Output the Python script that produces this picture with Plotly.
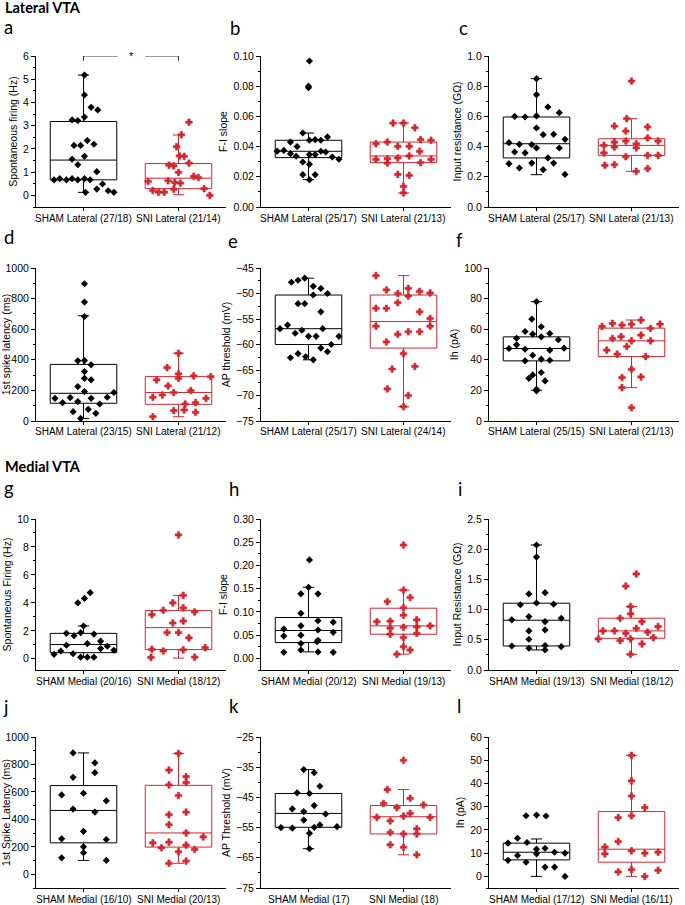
import plotly.graph_objects as go

W, H = 685, 905
SHAM_COLOR = 'black'
SNI_COLOR = '#d3262f'
TXT_FONT = 'Liberation Sans, Arial, sans-serif'

# box stats: [lower whisker, q1, median, q3, upper whisker]
# point x offsets (dx) are relative to the category centre

# ---- a: spontaneous firing, lateral
a_labels = ['SHAM Lateral (27/18)', 'SNI Lateral (21/14)']
a_sham_y = [5.18, 4.32, 3.79, 3.68, 3.37, 3.25, 3.22, 2.36, 2.2, 2.15, 2.15, 1.68, 1.56, 1.32, 1.02,
            0.67, 0.72, 0.67, 0.72, 0.67, 0.72, 0.67, 0.49, 0.27, 0.2, 0.13, 0.13]
a_sham_dx = [0.01, 0.01, 0.08, 0.15, 0.01, -0.12, -0.06, 0.04, 0.11, -0.10, -0.03, 0.01, -0.12, -0.06, 0.14,
             -0.31, -0.25, -0.18, -0.12, -0.06, 0.01, 0.07, 0.20, 0.14, 0.26, 0.32, 0.02]
a_sni_y = [3.15, 2.61, 2.1, 1.7, 1.68, 1.39, 1.3, 1.27, 0.99, 0.82, 0.77, 0.6, 0.63, 0.56, 0.53,
           0.21, 0.14, 0.14, 0.27, 0.29, 0.0]
a_sni_dx = [0.11, 0.03, -0.02, 0.01, 0.06, 0.11, -0.10, -0.05, 0.0, 0.16, 0.21, -0.32, -0.11, -0.04, 0.02,
            -0.27, -0.21, -0.15, -0.05, 0.27, 0.33]
a_sham_box = [0.13, 0.67, 1.52, 3.18, 5.18]
a_sni_box = [0.03, 0.29, 0.74, 1.37, 2.6]

# ---- b: F-I slope, lateral
b_labels = ['SHAM Lateral (25/17)', 'SNI Lateral (21/13)']
b_sham_y = [0.0967, 0.080, 0.079, 0.049, 0.0464, 0.0446, 0.0442, 0.0442, 0.043, 0.037, 0.0375, 0.040, 0.0353,
            0.0369, 0.0364, 0.0347, 0.0347, 0.0336, 0.0331, 0.0316, 0.0298, 0.0283, 0.0214, 0.0214, 0.0181]
b_sham_dx = [0.01, 0.0, 0.0, -0.06, 0.20, 0.07, 0.13, 0.01, -0.19, -0.33, -0.26, -0.12, -0.19,
             0.13, 0.18, 0.01, 0.07, -0.13, 0.25, 0.32, -0.06, 0.01, -0.06, 0.07, 0.01]
b_sni_y = [0.0556, 0.0556, 0.0525, 0.0419, 0.043, 0.0402, 0.0402, 0.0446, 0.0442, 0.0369, 0.0338, 0.0316,
           0.032, 0.0325, 0.0316, 0.0291, 0.0294, 0.0216, 0.021, 0.0137, 0.0093]
b_sni_dx = [-0.11, 0.0, 0.12, -0.29, -0.17, -0.06, 0.06, 0.18, 0.29, 0.17, 0.06, -0.29,
            -0.17, -0.06, 0.29, -0.17, 0.18, -0.06, 0.06, 0.0, 0.0]
b_sham_box = [0.0181, 0.0327, 0.0369, 0.0442, 0.049]
b_sni_box = [0.0093, 0.0294, 0.0338, 0.043, 0.0556]

# ---- c: input resistance, lateral
c_labels = ['SHAM Lateral (25/17)', 'SNI Lateral (21/13)']
c_sham_y = [0.85, 0.744, 0.662, 0.625, 0.60, 0.596, 0.603, 0.523, 0.479, 0.481, 0.448, 0.426, 0.415, 0.413,
            0.391, 0.391, 0.364, 0.358, 0.325, 0.291, 0.287, 0.291, 0.258, 0.247, 0.216]
c_sham_dx = [0.0, 0.0, 0.12, 0.24, -0.23, -0.12, 0.0, 0.0, 0.07, 0.18, 0.30, -0.29, -0.18, -0.05,
             0.0, 0.24, -0.23, -0.12, 0.12, 0.18, -0.29, -0.05, -0.18, 0.07, 0.30]
c_sni_y = [0.834, 0.585, 0.536, 0.53, 0.503, 0.457, 0.437, 0.419, 0.437, 0.408, 0.43, 0.397, 0.391, 0.358,
           0.333, 0.342, 0.342, 0.276, 0.28, 0.236, 0.254]
c_sni_dx = [0.0, -0.05, -0.18, 0.17, -0.06, 0.17, -0.06, 0.05, 0.28, -0.29, -0.18, -0.18, 0.05, -0.29,
            -0.06, 0.17, 0.28, -0.28, -0.18, 0.05, 0.17]
c_sham_box = [0.214, 0.325, 0.419, 0.596, 0.85]
c_sni_box = [0.236, 0.342, 0.408, 0.452, 0.585]

# ---- d: 1st spike latency, lateral
d_labels = ['SHAM Lateral (23/15)', 'SNI Lateral (21/12)']
d_sham_y = [897, 777, 683, 393, 395, 367, 323, 225, 279, 269, 192, 148, 120, 153, 127, 148, 111, 155, 186,
            61, 76, 50, 17]
d_sham_dx = [0.01, 0.01, 0.01, -0.06, 0.01, 0.08, 0.01, -0.06, 0.01, 0.08, 0.01, -0.30, -0.22, -0.14, -0.06,
             0.08, 0.17, 0.25, 0.32, -0.11, 0.05, 0.13, -0.03]
d_sni_y = [443, 349, 308, 279, 295, 290, 269, 229, 199, 186, 155, 170, 148, 111, 120, 68, 72, 57, 28]
d_sni_dx = [0.0, -0.12, 0.0, 0.0, 0.16, 0.34, -0.23, -0.11, 0.13, -0.05, -0.27, -0.17, 0.29, 0.07, 0.18,
            -0.05, 0.06, 0.18, -0.27]
d_sham_box = [17, 116, 181, 370, 688]
d_sni_box = [28, 109, 186, 290, 443]

# ---- e: AP threshold, lateral
e_labels = ['SHAM Lateral (25/17)', 'SNI Lateral (24/14)']
e_sham_y = [-47.0, -47.4, -47.8, -48.6, -49.0, -50.0, -50.3, -52.0, -52.0, -53.6, -56.2, -56.9, -56.9, -57.2,
            -57.8, -58.4, -58.4, -58.4, -60.0, -60.7, -61.4, -61.8, -62.6, -62.4, -63.0]
e_sham_dx = [-0.04, -0.11, -0.18, 0.05, 0.13, 0.20, 0.05, -0.11, -0.04, 0.13, -0.22, -0.30, 0.15, -0.07,
             -0.14, 0.0, 0.08, 0.32, 0.24, 0.13, 0.20, -0.11, -0.19, -0.03, 0.05]
e_sni_y = [-46.5, -49.3, -49.0, -49.6, -49.9, -50.0, -50.5, -51.8, -52.9, -52.9, -53.6, -54.9, -56.4, -56.4,
           -57.5, -57.5, -58.0, -59.5, -61.8, -64.8, -64.3, -68.7, -70.0, -72.2]
e_sni_dx = [-0.29, -0.18, 0.05, 0.17, 0.28, -0.06, 0.05, -0.06, -0.29, -0.18, 0.17, 0.28, -0.29, 0.28,
            0.05, 0.17, -0.06, -0.18, 0.0, -0.12, 0.12, -0.17, 0.05, 0.0]
e_sham_box = [-63.0, -60.0, -56.9, -50.3, -47.0]
e_sni_box = [-72.2, -60.7, -55.5, -50.3, -46.5]

# ---- f: Ih, lateral
f_labels = ['SHAM Lateral (25/15)', 'SNI Lateral (21/13)']
f_sham_y = [78, 66.6, 61.6, 58.5, 56.8, 57.2, 55, 54.1, 53.1, 49.8, 47.6, 46.9, 47.4, 46.3, 43, 39.3, 40.4,
            39.7, 31.7, 30.1, 27.9, 26.2, 20.7, 19.7]
f_sham_dx = [0.0, -0.05, 0.05, -0.12, -0.04, 0.14, 0.05, -0.21, 0.23, -0.21, 0.29, -0.12, -0.29, 0.14, -0.04,
             -0.12, 0.05, 0.14, 0.05, -0.04, -0.08, 0.09, 0.0, 0.0]
f_sni_y = [65.9, 63.8, 61.8, 62.7, 63.3, 60.5, 63.3, 53.9, 55.2, 56.1, 52.4, 52.4, 46.3, 48.7, 43.7, 42.1,
           33.8, 28.4, 28.8, 21.8, 8.7]
f_sni_dx = [0.10, -0.20, -0.31, -0.10, 0.30, 0.20, 0.0, -0.20, -0.11, 0.10, 0.20, 0.0, -0.26, -0.05, -0.15,
            0.15, 0.0, -0.10, 0.10, -0.10, 0.0]
f_sham_box = [20.1, 39.3, 47.4, 55.0, 78]
f_sni_box = [21.8, 42.1, 52.4, 60.7, 66]

# ---- g: spontaneous firing, medial
g_labels = ['SHAM Medial (20/16)', 'SNI Medial (18/12)']
g_sham_y = [4.73, 4.32, 4.0, 2.35, 1.82, 1.87, 1.77, 1.65, 1.09, 0.97, 1.26, 0.90, 0.73, 0.56, 0.61, 0.32,
            0.36, 0.12, 0.12, 0.12]
g_sham_dx = [0.07, 0.01, -0.06, 0.0, -0.18, -0.03, 0.11, -0.10, 0.04, -0.18, 0.18, 0.25, 0.18, -0.24, 0.32,
             -0.31, -0.11, -0.03, 0.04, 0.11]
g_sni_y = [8.86, 4.54, 4.0, 3.64, 3.47, 3.35, 3.16, 2.7, 2.56, 1.88, 1.88, 1.5, 0.8, 0.68, 0.56, 0.64, 0.1, 0.12]
g_sni_dx = [0.0, 0.05, -0.06, 0.05, -0.16, 0.17, -0.28, 0.05, -0.06, -0.12, 0.0, 0.11, 0.28, -0.28, -0.16,
            0.05, -0.29, 0.17]
g_sham_box = [0.12, 0.44, 1.02, 1.82, 2.35]
g_sni_box = [0.05, 0.66, 2.23, 3.45, 4.54]

# ---- h: F-I slope, medial
h_labels = ['SHAM Medial (20/12)', 'SNI Medial (19/13)']
h_sham_y = [0.212, 0.153, 0.139, 0.139, 0.097, 0.070, 0.081, 0.078, 0.063, 0.061, 0.056, 0.048, 0.050, 0.039,
            0.036, 0.032, 0.018, 0.013, 0.014, 0.013]
h_sham_dx = [0.01, 0.0, -0.08, 0.10, -0.08, -0.08, 0.10, 0.26, -0.26, 0.10, 0.26, -0.26, -0.08, 0.10,
             0.09, -0.08, -0.08, -0.26, 0.10, 0.26]
h_sni_y = [0.244, 0.147, 0.131, 0.122, 0.109, 0.093, 0.079, 0.080, 0.083, 0.068, 0.070, 0.067, 0.065, 0.052,
           0.054, 0.045, 0.025, 0.018, 0.009]
h_sni_dx = [0.0, 0.0, 0.07, -0.17, 0.0, 0.0, -0.28, -0.14, 0.14, 0.14, 0.28, 0.0, -0.14, -0.14,
            0.14, 0.0, 0.0, 0.07, -0.07]
h_sham_box = [0.014, 0.034, 0.060, 0.088, 0.153]
h_sni_box = [0.009, 0.052, 0.070, 0.108, 0.147]

# ---- i: input resistance, medial
i_labels = ['SHAM Medial (19/13)', 'SNI Medial (18/12)']
i_sham_y = [2.07, 1.87, 1.26, 1.28, 1.08, 1.11, 1.09, 0.83, 0.885, 0.857, 0.80, 0.647, 0.664, 0.509, 0.398,
            0.36, 0.404, 0.332, 0.387]
i_sham_dx = [0.0, 0.0, -0.08, 0.09, -0.17, 0.0, 0.18, -0.26, -0.08, 0.26, 0.09, -0.08, 0.09, -0.08, -0.26,
             -0.08, 0.09, 0.09, 0.26]
i_sni_y = [1.59, 1.39, 1.05, 0.93, 0.857, 0.80, 0.647, 0.647, 0.69, 0.608, 0.625, 0.719, 0.514, 0.487, 0.514,
           0.536, 0.431, 0.26]
i_sni_dx = [0.05, -0.06, -0.01, -0.01, -0.12, 0.11, -0.30, -0.18, 0.05, -0.06, 0.17, 0.28, -0.35, -0.12, -0.01,
            0.23, 0.11, -0.01]
i_sham_box = [0.332, 0.398, 0.824, 1.106, 2.07]
i_sni_box = [0.26, 0.525, 0.647, 0.857, 1.05]

# ---- j: 1st spike latency, medial
j_labels = ['SHAM Medial (16/10)', 'SNI Medial (20/13)']
j_sham_y = [884, 812, 740, 706, 578, 590, 535, 475, 453, 313, 258, 253, 200, 157, 120, 101]
j_sham_dx = [-0.11, 0.12, 0.12, -0.11, -0.23, 0.0, 0.24, -0.11, 0.12, 0.0, -0.23, 0.24, 0.0, 0.0, -0.23, 0.24]
j_sni_y = [880, 759, 711, 668, 651, 574, 434, 453, 361, 301, 272, 229, 193, 234, 212, 181, 164, 80, 96]
j_sni_dx = [0.0, -0.10, 0.08, 0.08, -0.10, 0.0, -0.10, 0.08, -0.10, 0.08, 0.26, -0.27, -0.18, -0.10, 0.08,
            0.17, 0.0, -0.10, 0.08]
j_sham_box = [101, 229, 465, 646, 884]
j_sni_box = [80, 198, 301, 648, 880]

# ---- k: AP threshold, medial
k_labels = ['SHAM Medial (17)', 'SNI Medial (18)']
k_sham_y = [-35.8, -36.8, -41.3, -43.5, -43.7, -47.7, -48.8, -49.7, -50.5, -52.5, -54.1, -55.0, -55.2, -54.9,
            -54.7, -56.9, -62.0]
k_sham_dx = [-0.05, 0.06, 0.12, -0.12, 0.01, 0.06, -0.17, -0.05, 0.18, -0.05, 0.12, -0.29, -0.17, 0.06,
             0.30, 0.01, 0.01]
k_sni_y = [-32.7, -42.4, -45.3, -47.0, -47.5, -48.4, -50.3, -51.6, -51.2, -51.6, -52.8, -55.4, -56.6, -57.1,
           -57.1, -60.7, -61.5, -64.0]
k_sni_dx = [0.0, -0.17, 0.07, -0.21, 0.21, -0.07, 0.07, -0.28, 0.0, 0.28, -0.14, 0.14, -0.14, 0.0,
            0.14, -0.14, 0.0, 0.14]
k_sham_box = [-62.0, -54.9, -50.3, -43.7, -35.8]
k_sni_box = [-64.0, -57.1, -51.4, -47.7, -42.4]

# ---- l: Ih, medial
l_labels = ['SHAM Medial (17/12)', 'SNI Medial (16/11)']
l_sham_y = [26.1, 26.4, 26.0, 16.4, 14.3, 14.6, 12.1, 11.7, 9.0, 9.7, 10.4, 10.0, 6.9, 6.1, 4.0, 4.0, 0.0]
l_sham_dx = [-0.11, 0.0, 0.10, -0.20, -0.30, -0.10, 0.09, 0.0, -0.20, 0.0, 0.19, 0.30, -0.30, -0.11, 0.09,
             0.19, 0.30]
l_sni_y = [52.1, 41.1, 34.6, 29.6, 26.1, 25.3, 15.0, 12.6, 9.7, 11.0, 10.0, 10.4, 1.9, 2.9, 2.6, 0.0]
l_sni_dx = [0.0, 0.0, 0.0, 0.14, 0.0, -0.14, -0.14, -0.28, -0.28, 0.0, 0.14, 0.28, -0.14, 0.0, 0.28, 0.14]
l_sham_box = [0.0, 7.1, 10.4, 14.3, 16.1]
l_sni_box = [0.0, 6.1, 11.7, 27.9, 52.1]

y_titles = ['Spontaneous firing (Hz)', 'F-I slope', 'Input resistance (G\u03a9)',
            '1st spike latency (ms)', 'AP threshold (mV)', 'Ih (pA)',
            'Spontaneous Firing (Hz)', 'F-I slope', 'Input Resistance (G\u03a9)',
            '1st Spike Latency (ms)', 'AP Threshold (mV)', 'Ih (pA)']

# significance bracket in panel a
sig_left_x = [0, 0, 0.36]
sig_left_y = [5.8, 6, 6]
sig_right_x = [0.65, 1, 1]
sig_right_y = [6, 6, 5.8]

panels = [
    (a_labels, a_sham_y, a_sham_dx, a_sni_y, a_sni_dx, a_sham_box, a_sni_box),
    (b_labels, b_sham_y, b_sham_dx, b_sni_y, b_sni_dx, b_sham_box, b_sni_box),
    (c_labels, c_sham_y, c_sham_dx, c_sni_y, c_sni_dx, c_sham_box, c_sni_box),
    (d_labels, d_sham_y, d_sham_dx, d_sni_y, d_sni_dx, d_sham_box, d_sni_box),
    (e_labels, e_sham_y, e_sham_dx, e_sni_y, e_sni_dx, e_sham_box, e_sni_box),
    (f_labels, f_sham_y, f_sham_dx, f_sni_y, f_sni_dx, f_sham_box, f_sni_box),
    (g_labels, g_sham_y, g_sham_dx, g_sni_y, g_sni_dx, g_sham_box, g_sni_box),
    (h_labels, h_sham_y, h_sham_dx, h_sni_y, h_sni_dx, h_sham_box, h_sni_box),
    (i_labels, i_sham_y, i_sham_dx, i_sni_y, i_sni_dx, i_sham_box, i_sni_box),
    (j_labels, j_sham_y, j_sham_dx, j_sni_y, j_sni_dx, j_sham_box, j_sni_box),
    (k_labels, k_sham_y, k_sham_dx, k_sni_y, k_sni_dx, k_sham_box, k_sni_box),
    (l_labels, l_sham_y, l_sham_dx, l_sni_y, l_sni_dx, l_sham_box, l_sni_box),
]

# axis settings: (range, dtick, tickformat)
y_axes = [
    ([-0.5, 6], 1, ''), ([0, 0.1], 0.02, '.2f'), ([0, 1.0], 0.2, '.1f'),
    ([0, 1000], 200, ''), ([-75, -45], 5, ''), ([0, 100], 20, ''),
    ([-0.8, 10], 2, ''), ([-0.025, 0.3], 0.05, '.2f'), ([0, 2.5], 0.5, '.1f'),
    ([-100, 1000], 200, ''), ([-75, -25], 10, ''), ([-5, 60], 10, ''),
]

# pixel layout of the plot areas
col_px = [(36, 226), (261, 451), (489, 679)]
row_px = [(56, 207), (268, 421), (519, 670), (737, 888)]


def xp(px):
    return px / W


def yp(py):
    return 1 - py / H


fig = go.Figure()
layout = {}
annotations = []

for n, (labels, sy, sdx, ny, ndx, sbox, nbox) in enumerate(panels):
    idx = n + 1
    xa = 'x' if idx == 1 else f'x{idx}'
    ya = 'y' if idx == 1 else f'y{idx}'
    r, c = divmod(n, 3)

    for cat, box, col in [(0, sbox, SHAM_COLOR), (1, nbox, SNI_COLOR)]:
        fig.add_trace(go.Box(
            x=[cat], lowerfence=[box[0]], q1=[box[1]], median=[box[2]], q3=[box[3]], upperfence=[box[4]],
            width=0.7, whiskerwidth=0.17, boxpoints=False,
            line=dict(color=col, width=1), fillcolor='rgba(0,0,0,0)',
            xaxis=xa, yaxis=ya, showlegend=False, hoverinfo='skip'))

    fig.add_trace(go.Scatter(
        x=[0 + d for d in sdx], y=sy, mode='markers', cliponaxis=False,
        marker=dict(symbol='diamond', size=5.5, color=SHAM_COLOR),
        xaxis=xa, yaxis=ya, showlegend=False))
    fig.add_trace(go.Scatter(
        x=[1 + d for d in ndx], y=ny, mode='markers', cliponaxis=False,
        marker=dict(symbol='cross', size=5.5, color=SNI_COLOR, line=dict(color=SNI_COLOR, width=0.6)),
        xaxis=xa, yaxis=ya, showlegend=False))

    yr, dt, fmt = y_axes[n]
    x0, x1 = col_px[c]
    top, bot = row_px[r]
    key = '' if idx == 1 else str(idx)
    layout['xaxis' + key] = dict(
        domain=[xp(x0), xp(x1)], range=[-0.5, 1.5], anchor=ya,
        tickvals=[0, 1], showticklabels=False, showline=True, linecolor='black', linewidth=1,
        ticks='outside', ticklen=3, tickcolor='black', showgrid=False, zeroline=False,
        automargin=False)
    layout['yaxis' + key] = dict(
        domain=[yp(bot), yp(top)], range=yr, dtick=dt, tick0=yr[1] if idx == 11 else 0,
        tickformat=fmt, anchor=xa, showline=True, linecolor='black', linewidth=1,
        ticks='outside', ticklen=4, tickcolor='black', showgrid=False, zeroline=False,
        minor=dict(dtick=dt / 2, ticks='outside', ticklen=2, tickcolor='black'),
        tickfont=dict(size=10.5, color='black', family=TXT_FONT), automargin=False,
        title=dict(text=y_titles[n], standoff=3,
                   font=dict(size=10.5, color='black', family=TXT_FONT)))

    # category labels under the x axis
    for cat, lab in enumerate(labels):
        annotations.append(dict(
            x=cat, xref=xa, y=yp(bot + 11), yref='paper', text=lab, showarrow=False,
            xanchor='center', yanchor='middle',
            font=dict(size=10, color='black', family=TXT_FONT)))

# significance bracket, panel a
for bx, by in [(sig_left_x, sig_left_y), (sig_right_x, sig_right_y)]:
    fig.add_trace(go.Scatter(x=bx, y=by, mode='lines', cliponaxis=False,
                             line=dict(color='#333333', width=1), xaxis='x', yaxis='y',
                             showlegend=False, hoverinfo='skip'))

annotations.append(dict(x=0.5, y=6, xref='x', yref='y', text='*', showarrow=False,
                        font=dict(size=11, color='black', family=TXT_FONT), yanchor='middle'))

for text, hy in [('<b>Lateral VTA</b>', 7), ('<b>Medial VTA</b>', 466)]:
    annotations.append(dict(x=xp(3), y=yp(hy), xref='paper', yref='paper', text=text,
                            xanchor='left', yanchor='middle', showarrow=False,
                            font=dict(size=14.5, color='black', family='Lato, Open Sans, sans-serif')))

letters = [('a', 2, 27), ('b', 228, 28), ('c', 457, 28),
           ('d', 2, 237), ('e', 226, 241), ('f', 454, 240),
           ('g', 2, 488), ('h', 227, 489), ('i', 456, 489),
           ('j', 1, 707), ('k', 227, 706), ('l', 455, 706)]
for t, lx, ly in letters:
    annotations.append(dict(x=xp(lx), y=yp(ly), xref='paper', yref='paper', text=t,
                            xanchor='left', yanchor='middle', showarrow=False,
                            font=dict(size=18.5, color='black', family='Lato, Open Sans, sans-serif')))

fig.update_layout(
    width=W, height=H, margin=dict(l=0, r=0, t=0, b=0),
    paper_bgcolor='white', plot_bgcolor='white',
    font=dict(family=TXT_FONT, size=10.5, color='black'),
    boxmode='overlay', annotations=annotations, **layout)

# the page body has a default 8px margin; drop it so the figure fills the window
fig.write_html('out.html', config={'displayModeBar': False},
               post_script="document.body.style.margin='0px';")
